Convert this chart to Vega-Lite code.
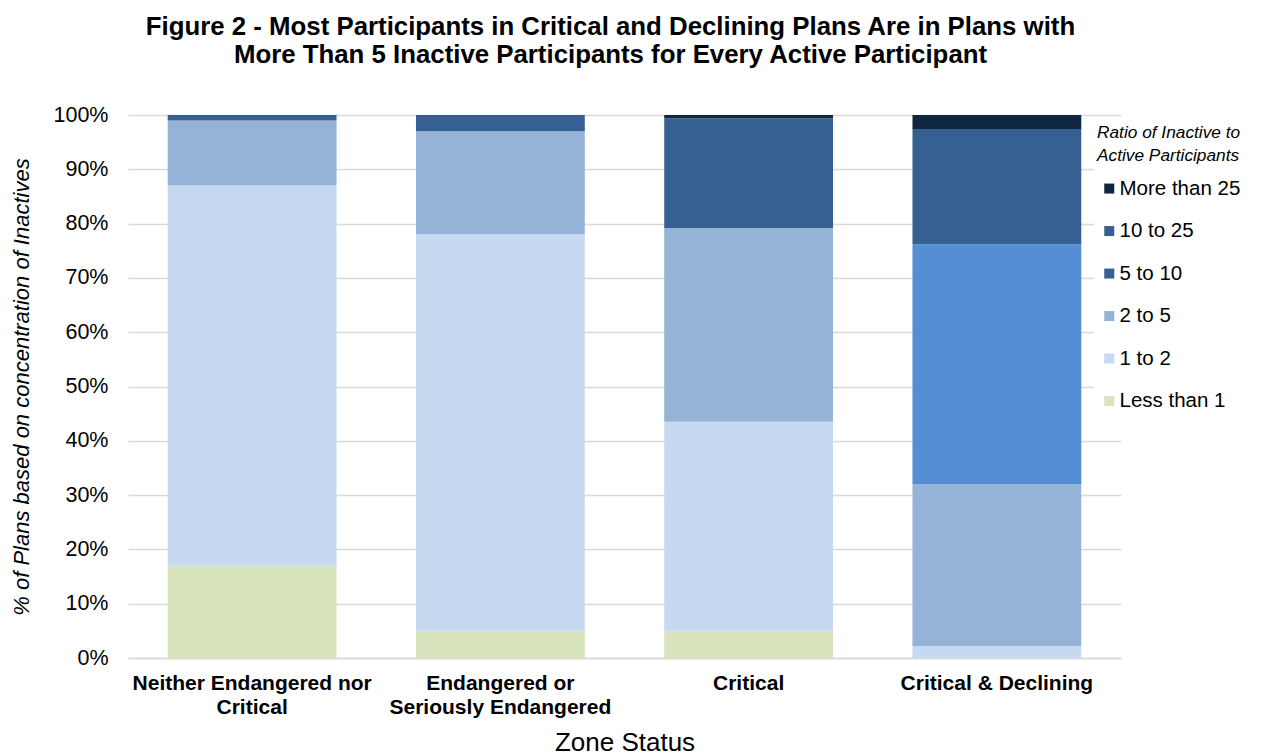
{
  "$schema": "https://vega.github.io/schema/vega-lite/v6.json",
  "autosize": "none",
  "width": 993,
  "height": 543,
  "padding": {"left": 128, "top": 115, "right": 140, "bottom": 97},
  "background": "white",
  "config": {
    "font": "Liberation Sans",
    "view": {"stroke": null}
  },
  "title": {
    "text": ["Figure 2 - Most Participants in Critical and Declining Plans Are in Plans with", "More Than 5 Inactive Participants for Every Active Participant"],
    "font": "Liberation Sans",
    "fontSize": 25.8,
    "fontWeight": "bold",
    "color": "#000000",
    "anchor": "middle",
    "dx": -14,
    "lineHeight": 28,
    "offset": 35
  },
  "data": {
    "values": [
      {"zone": "Neither Endangered nor Critical", "ratio": "Less than 1", "pct": 17.0},
      {"zone": "Neither Endangered nor Critical", "ratio": "1 to 2", "pct": 70.0},
      {"zone": "Neither Endangered nor Critical", "ratio": "2 to 5", "pct": 12.0},
      {"zone": "Neither Endangered nor Critical", "ratio": "5 to 10", "pct": 0.8},
      {"zone": "Neither Endangered nor Critical", "ratio": "10 to 25", "pct": 0.2},
      {"zone": "Neither Endangered nor Critical", "ratio": "More than 25", "pct": 0.0},
      {"zone": "Endangered or Seriously Endangered", "ratio": "Less than 1", "pct": 5.0},
      {"zone": "Endangered or Seriously Endangered", "ratio": "1 to 2", "pct": 73.1},
      {"zone": "Endangered or Seriously Endangered", "ratio": "2 to 5", "pct": 18.9},
      {"zone": "Endangered or Seriously Endangered", "ratio": "5 to 10", "pct": 1.9},
      {"zone": "Endangered or Seriously Endangered", "ratio": "10 to 25", "pct": 1.1},
      {"zone": "Endangered or Seriously Endangered", "ratio": "More than 25", "pct": 0.0},
      {"zone": "Critical", "ratio": "Less than 1", "pct": 5.0},
      {"zone": "Critical", "ratio": "1 to 2", "pct": 38.5},
      {"zone": "Critical", "ratio": "2 to 5", "pct": 35.7},
      {"zone": "Critical", "ratio": "5 to 10", "pct": 19.5},
      {"zone": "Critical", "ratio": "10 to 25", "pct": 0.7},
      {"zone": "Critical", "ratio": "More than 25", "pct": 0.6},
      {"zone": "Critical & Declining", "ratio": "Less than 1", "pct": 0.0},
      {"zone": "Critical & Declining", "ratio": "1 to 2", "pct": 2.2},
      {"zone": "Critical & Declining", "ratio": "2 to 5", "pct": 29.8},
      {"zone": "Critical & Declining", "ratio": "5 to 10", "pct": 44.2},
      {"zone": "Critical & Declining", "ratio": "10 to 25", "pct": 21.2},
      {"zone": "Critical & Declining", "ratio": "More than 25", "pct": 2.6}
    ]
  },
  "transform": [
    {"calculate": "indexof(['Less than 1', '1 to 2', '2 to 5', '5 to 10', '10 to 25', 'More than 25'], datum.ratio)", "as": "rank"}
  ],
  "mark": {"type": "bar", "stroke": null},
  "encoding": {
    "x": {
      "field": "zone",
      "type": "nominal",
      "sort": ["Neither Endangered nor Critical", "Endangered or Seriously Endangered", "Critical", "Critical & Declining"],
      "scale": {"paddingInner": 0.32, "paddingOuter": 0.16},
      "axis": {
        "title": "Zone Status",
        "titleFont": "Liberation Sans",
        "titleFontSize": 26,
        "titleFontWeight": "normal",
        "titleColor": "#000000",
        "titlePadding": 12,
        "labelAngle": 0,
        "labelFont": "Liberation Sans",
        "labelFontSize": 21,
        "labelFontWeight": "bold",
        "labelColor": "#000000",
        "labelLineHeight": 24,
        "labelPadding": 14,
        "labelLimit": 400,
        "labelExpr": "datum.label == 'Neither Endangered nor Critical' ? ['Neither Endangered nor', 'Critical'] : datum.label == 'Endangered or Seriously Endangered' ? ['Endangered or', 'Seriously Endangered'] : datum.label",
        "ticks": false,
        "domain": true,
        "domainColor": "#d9d9d9",
        "domainWidth": 1.5
      }
    },
    "y": {
      "field": "pct",
      "type": "quantitative",
      "stack": "zero",
      "scale": {"domain": [0, 100]},
      "axis": {
        "title": "% of Plans based on concentration of Inactives",
        "titleFont": "Liberation Sans",
        "titleFontSize": 22,
        "titleFontWeight": "normal",
        "titleFontStyle": "italic",
        "titleColor": "#000000",
        "titlePadding": 20,
        "values": [0, 10, 20, 30, 40, 50, 60, 70, 80, 90, 100],
        "labelExpr": "datum.value + '%'",
        "labelFont": "Liberation Sans",
        "labelFontSize": 21.5,
        "labelColor": "#000000",
        "labelPadding": 20,
        "ticks": false,
        "domain": false,
        "grid": true,
        "gridColor": "#d9d9d9",
        "gridWidth": 1.5
      }
    },
    "color": {
      "field": "ratio",
      "type": "nominal",
      "scale": {
        "domain": ["Less than 1", "1 to 2", "2 to 5", "5 to 10", "10 to 25", "More than 25"],
        "range": ["#d7e4bd", "#c6d9f1", "#95b3d7", "#366092", "#376092", "#10253f"]
      },
      "condition": {
        "test": "datum.zone == 'Critical & Declining' && datum.ratio == '5 to 10'",
        "value": "#558ed5"
      },
      "legend": {
        "orient": "none",
        "legendX": 966,
        "legendY": 6,
        "fillColor": "white",
        "padding": 3,
        "values": ["More than 25", "10 to 25", "5 to 10", "2 to 5", "1 to 2", "Less than 1"],
        "title": ["Ratio of Inactive to", "Active Participants"],
        "titleFont": "Liberation Sans",
        "titleFontSize": 17.3,
        "titleFontWeight": "normal",
        "titleFontStyle": "italic",
        "titleColor": "#000000",
        "titleLineHeight": 23,
        "titlePadding": 14,
        "labelFont": "Liberation Sans",
        "labelFontSize": 20.5,
        "labelColor": "#000000",
        "labelOffset": 0,
        "labelLimit": 200,
        "symbolType": "square",
        "symbolSize": 100,
        "symbolStrokeWidth": 0,
        "symbolOffset": 2,
        "rowPadding": 21.5
      }
    },
    "order": {"field": "rank", "type": "quantitative", "sort": "ascending"}
  }
}
